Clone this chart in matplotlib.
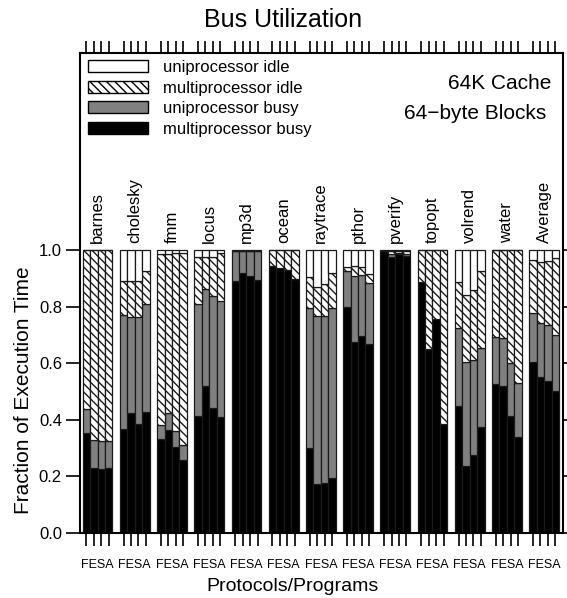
import numpy as np
import matplotlib
matplotlib.use("Agg")
import matplotlib.pyplot as plt
from matplotlib.patches import Patch

plt.rcParams['font.family'] = ['Liberation Sans', 'DejaVu Sans']
plt.rcParams['hatch.linewidth'] = 1.0

programs = ['barnes', 'cholesky', 'fmm', 'locus', 'mp3d', 'ocean', 'raytrace',
            'pthor', 'pverify', 'topopt', 'volrend', 'water', 'Average']
protocols = ['F', 'E', 'S', 'A']

# fractions per bar, 4 protocols (F,E,S,A) per program
mp_busy = [0.354, 0.228, 0.225, 0.230,   # barnes
           0.366, 0.425, 0.384, 0.427,   # cholesky
           0.333, 0.363, 0.305, 0.258,   # fmm
           0.413, 0.519, 0.442, 0.410,   # locus
           0.892, 0.918, 0.907, 0.894,   # mp3d
           0.945, 0.936, 0.929, 0.897,   # ocean
           0.300, 0.173, 0.176, 0.196,   # raytrace
           0.800, 0.675, 0.695, 0.668,   # pthor
           0.995, 0.975, 0.985, 0.980,   # pverify
           0.886, 0.651, 0.756, 0.386,   # topopt
           0.448, 0.237, 0.276, 0.374,   # volrend
           0.526, 0.519, 0.415, 0.340,   # water
           0.604, 0.550, 0.538, 0.503]   # Average
uni_busy = [0.083, 0.101, 0.100, 0.095,
            0.406, 0.340, 0.379, 0.382,
            0.050, 0.060, 0.055, 0.053,
            0.397, 0.343, 0.394, 0.409,
            0.103, 0.077, 0.088, 0.101,
            0.000, 0.000, 0.000, 0.000,
            0.495, 0.595, 0.592, 0.599,
            0.127, 0.233, 0.217, 0.215,
            0.000, 0.010, 0.005, 0.005,
            0.000, 0.000, 0.000, 0.000,
            0.276, 0.366, 0.334, 0.280,
            0.165, 0.169, 0.185, 0.191,
            0.174, 0.191, 0.198, 0.196]
mp_idle = [0.563, 0.671, 0.675, 0.675,
           0.118, 0.125, 0.127, 0.116,
           0.603, 0.563, 0.628, 0.680,
           0.167, 0.115, 0.141, 0.169,
           0.000, 0.000, 0.000, 0.000,
           0.055, 0.064, 0.071, 0.103,
           0.111, 0.103, 0.111, 0.125,
           0.014, 0.036, 0.029, 0.031,
           0.003, 0.010, 0.005, 0.010,
           0.114, 0.349, 0.244, 0.614,
           0.164, 0.237, 0.249, 0.273,
           0.309, 0.312, 0.400, 0.469,
           0.187, 0.215, 0.225, 0.272]
uni_idle = [0.000, 0.000, 0.000, 0.000,
            0.110, 0.110, 0.110, 0.075,
            0.014, 0.014, 0.012, 0.009,
            0.023, 0.023, 0.023, 0.012,
            0.005, 0.005, 0.005, 0.005,
            0.000, 0.000, 0.000, 0.000,
            0.094, 0.129, 0.121, 0.080,
            0.059, 0.056, 0.059, 0.086,
            0.002, 0.005, 0.005, 0.005,
            0.000, 0.000, 0.000, 0.000,
            0.112, 0.160, 0.141, 0.073,
            0.000, 0.000, 0.000, 0.000,
            0.035, 0.044, 0.039, 0.029]

n_prog = len(programs)
n_prot = len(protocols)
x = np.array([g * (n_prot + 1) + j for g in range(n_prog) for j in range(n_prot)])
centers = np.array([g * (n_prot + 1) + (n_prot - 1) / 2 for g in range(n_prog)])

mb = np.array(mp_busy)
ub = np.array(uni_busy)
mi = np.array(mp_idle)
ui = np.array(uni_idle)

fig = plt.figure(figsize=(5.67, 5.98), dpi=100)
ax = fig.add_axes([0.1411, 0.1087, 0.8513, 0.8035])

ec = '#1a1a1a'
lw = 0.9
ax.bar(x, mb, width=1, color='black', edgecolor=ec, linewidth=lw)
ax.bar(x, ub, width=1, bottom=mb, color='#808080', edgecolor=ec, linewidth=lw)
ax.bar(x, mi, width=1, bottom=mb + ub, color='white', hatch='\\\\\\\\', edgecolor=ec, linewidth=lw)
ax.bar(x, ui, width=1, bottom=mb + ub + mi, color='white', edgecolor=ec, linewidth=lw)

ax.set_xlim(-0.86, 64.0)
ax.set_ylim(0, 1.698)

# program names above bars
for c, name in zip(centers, programs):
    ax.text(c, 1.025, name, rotation=90, ha='center', va='bottom', fontsize=12)

for sp in ax.spines.values():
    sp.set_linewidth(1.5)

ax.set_yticks([0.0, 0.2, 0.4, 0.6, 0.8, 1.0])
ax.set_yticklabels(['0.0', '0.2', '0.4', '0.6', '0.8', '1.0'])
ax.tick_params(axis='y', which='major', direction='out', length=10, width=1.2,
               labelsize=12, left=True, right=True, pad=3)

ax.set_xticks(x, minor=True)
ax.set_xticks(centers)
ax.set_xticklabels([''.join(protocols)] * n_prog,
                   family=['Liberation Sans Narrow', 'Liberation Sans', 'DejaVu Sans'])
ax.tick_params(axis='x', which='minor', direction='out', length=9, width=1.2,
               top=True, bottom=True)
ax.tick_params(axis='x', which='major', length=0, labelsize=9, pad=19)

ax.set_ylabel('Fraction of Execution Time', fontsize=15)
ax.yaxis.set_label_coords(-0.097, 0.298)
ax.set_xlabel('Protocols/Programs', fontsize=14)
ax.xaxis.set_label_coords(0.441, -0.094)

fig.suptitle('Bus Utilization', fontsize=18, y=0.987, va='top')

ax.text(0.977, 0.9365, '64K Cache', transform=ax.transAxes, ha='right', va='center', fontsize=15)
ax.text(0.965, 0.874, '64\u2212byte Blocks', transform=ax.transAxes, ha='right', va='center', fontsize=15)

handles = [Patch(facecolor='white', edgecolor='black', linewidth=1),
           Patch(facecolor='white', edgecolor='black', hatch='\\\\\\\\', linewidth=1),
           Patch(facecolor='#808080', edgecolor='black', linewidth=1),
           Patch(facecolor='black', edgecolor='black', linewidth=1)]
labels = ['uniprocessor idle', 'multiprocessor idle', 'uniprocessor busy', 'multiprocessor busy']
ax.legend(handles, labels, loc='upper left', bbox_to_anchor=(0.0, 1.0), frameon=False,
          fontsize=12, handlelength=3.6, handleheight=0.75, labelspacing=0.33,
          handletextpad=0.9, borderaxespad=0.0, borderpad=0.45)

fig.savefig('out.png', dpi=100)
